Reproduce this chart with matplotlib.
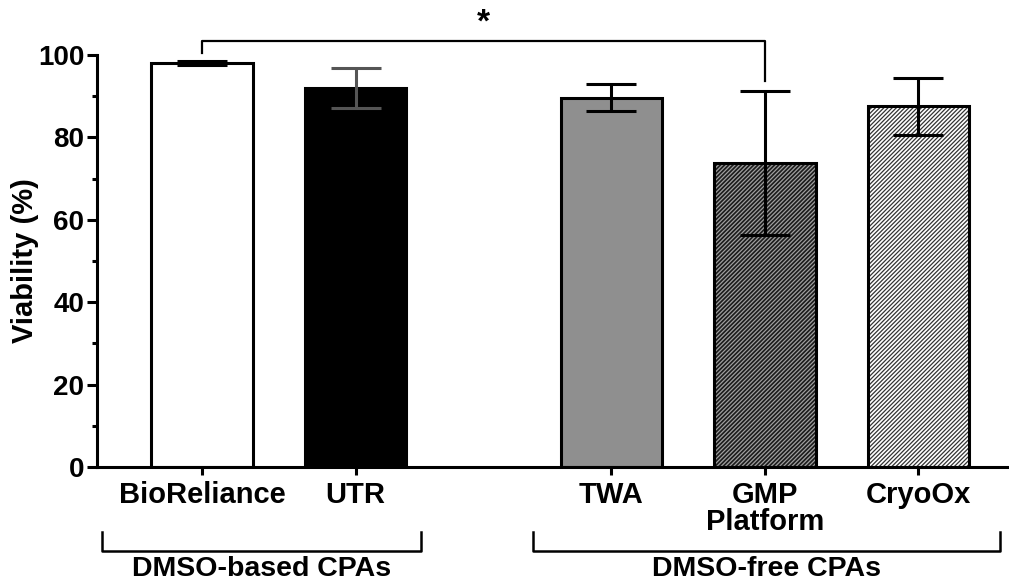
import matplotlib
matplotlib.use("Agg")
import matplotlib.pyplot as plt
import numpy as np

plt.rcParams['font.family'] = ['Liberation Sans', 'DejaVu Sans']
plt.rcParams['font.weight'] = 'bold'
plt.rcParams['hatch.linewidth'] = 0.9

categories = ["BioReliance", "UTR", "TWA", "GMP\nPlatform", "CryoOx"]
viability = [98.0, 92.0, 89.6, 73.8, 87.5]
sd = [0.5, 4.8, 3.3, 17.5, 6.9]
groups = ["DMSO-based CPAs", "DMSO-free CPAs"]
positions = [0, 1, 2.667, 3.667, 4.667]

face = ["white", "black", "#8f8f8f", "#1c1c1c", "white"]
hatch_col = [None, None, None, "#a0a0a0", "#333333"]
err_col = ["black", "#555555", "black", "black", "black"]

fig = plt.figure(figsize=(10.09, 5.85), dpi=100)
ax = fig.add_axes([97/1009, (585-467)/585, 1 - 97/1009, (467-55)/585])

w = 0.66
for i, (p, v) in enumerate(zip(positions, viability)):
    if hatch_col[i] is not None:
        ax.bar(p, v, w, color=face[i], edgecolor=hatch_col[i], hatch='////////', linewidth=0, zorder=2)
        ax.bar(p, v, w, fill=False, edgecolor='black', linewidth=2.2, zorder=3)
    else:
        ax.bar(p, v, w, color=face[i], edgecolor='black', linewidth=2.2, zorder=2)
    ax.errorbar(p, v, yerr=sd[i], fmt='none', ecolor=err_col[i], elinewidth=2.2,
                capsize=18, capthick=2.2, zorder=4)

ax.set_xlim(-0.684, 5.257)
ax.set_ylim(0, 100)
ax.set_yticks([0, 20, 40, 60, 80, 100])
ax.set_yticks([10, 30, 50, 70, 90], minor=True)
ax.set_xticks(positions)
ax.set_xticklabels(categories, fontsize=21, fontweight='bold', linespacing=0.95)
ax.tick_params(axis='y', labelsize=20, width=2.2, length=7, direction='out', pad=2)
ax.tick_params(axis='y', which='minor', width=2.2, length=3.5)
ax.tick_params(axis='x', width=2.2, length=6, pad=4)
for lab in ax.get_yticklabels():
    lab.set_fontweight('bold')
ax.spines['top'].set_visible(False)
ax.spines['right'].set_visible(False)
ax.spines['left'].set_linewidth(2.2)
ax.spines['bottom'].set_linewidth(2.2)

fig.text(25 / 1009, 1 - 261 / 585, "Viability (%)", rotation=90, ha='center', va='center',
         fontsize=21, fontweight='bold')

# significance bracket
yb = 103.3
ax.plot([positions[0], positions[0], positions[3], positions[3]],
        [100.6, yb, yb, 93.6], color='black', lw=1.6, clip_on=False, zorder=5)
ax.text((positions[0] + positions[3]) / 2, yb + 0.6, "*", ha='center', va='bottom',
        fontsize=24, fontweight='bold', clip_on=False)

# group brackets (figure coords in pixels)
def px(x, y):
    return (x / 1009, 1 - y / 585)

for (x0, x1), name in zip([(102, 421), (533, 1000)], groups):
    xs = [x0, x0, x1, x1]
    ys = [532, 551, 551, 532]
    fig.lines.append(plt.Line2D([x / 1009 for x in xs], [1 - y / 585 for y in ys],
                                transform=fig.transFigure, color='black', lw=1.8))
    fig.text(*px((x0 + x1) / 2, 569), name, ha='center', va='center',
             fontsize=20.5, fontweight='bold')

fig.savefig("out.png", dpi=100)
